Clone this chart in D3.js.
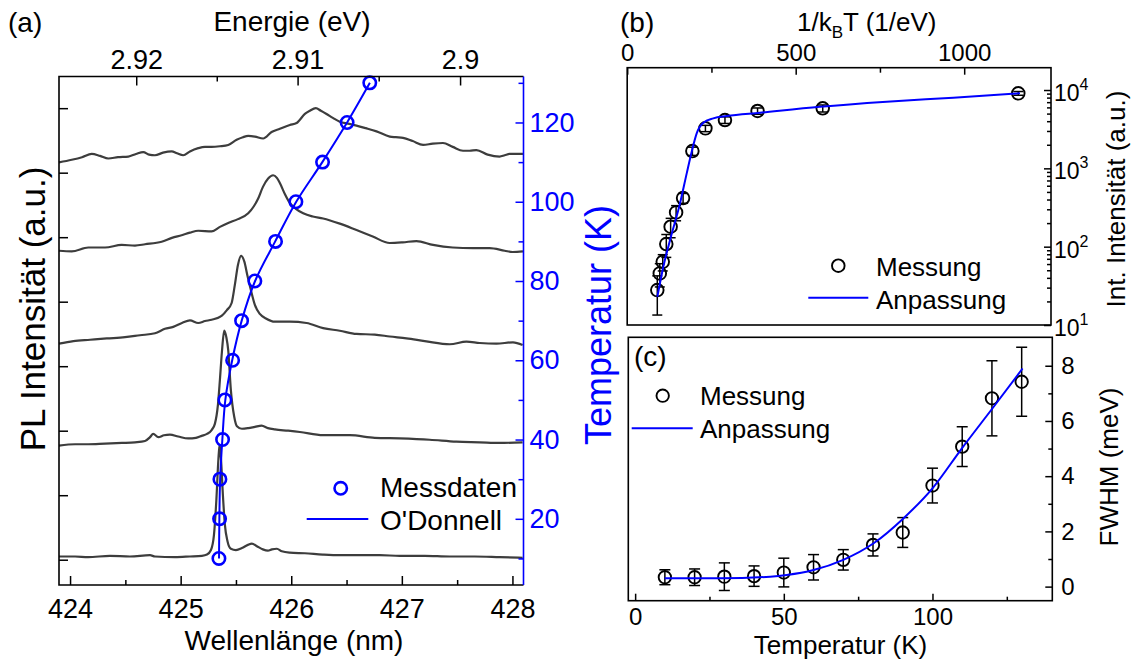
<!DOCTYPE html>
<html><head><meta charset="utf-8">
<script src="https://cdn.jsdelivr.net/npm/d3@7"></script>
<style>
body{margin:0;background:#fff}
svg{display:block}
</style>
</head><body>
<svg id="chart" width="1136" height="666"></svg>
<script>
// ---------------- DATA ----------------
// Panel (a): PL spectra (wavelength nm, intensity a.u.)
const spec1 = [[423.90,716],[424.015,720],[424.108,724],[424.196,729],[424.271,726],[424.346,722],[424.434,724],[424.527,725],[424.596,729],[424.662,732],[424.714,728],[424.768,727],[424.840,731],[424.919,733],[424.967,730],[425.023,727],[425.084,733],[425.159,738],[425.220,740],[425.280,740],[425.355,741],[425.430,743],[425.506,751],[425.563,755],[425.611,757],[425.671,756],[425.746,753],[425.822,763],[425.897,768],[425.987,774],[426.048,777],[426.123,791],[426.168,796],[426.222,800],[426.268,796],[426.319,791],[426.376,785],[426.439,779],[426.512,776],[426.590,773],[426.674,769],[426.771,764],[426.891,756],[426.945,755],[427.011,754],[427.098,749],[427.192,743],[427.279,745],[427.372,746],[427.460,740],[427.553,734],[427.613,734],[427.674,735],[427.776,728],[427.884,725],[427.930,727],[427.975,729],[428.095,729]];
const spec2 = [[423.90,579],[424.015,578],[424.165,584],[424.316,584],[424.467,588],[424.587,587],[424.678,589],[424.828,593],[424.921,599],[425.009,603],[425.084,607],[425.159,610],[425.280,609],[425.355,616],[425.430,622],[425.518,628],[425.611,637],[425.662,648],[425.701,660],[425.744,678],[425.791,691],[425.836,696],[425.870,692],[425.897,684],[425.942,667],[425.987,653],[426.042,644],[426.108,637],[426.195,632],[426.288,629],[426.439,621],[426.590,611],[426.737,601],[426.891,591],[427.008,592],[427.132,594],[427.282,588],[427.460,584],[427.643,583],[427.794,583],[427.930,579],[428.002,577],[428.095,578]];
const spec3 = [[423.90,435],[424.030,439],[424.181,441],[424.332,443],[424.497,445],[424.632,448],[424.768,451],[424.858,458],[424.933,461],[425.012,467],[425.084,471],[425.159,467],[425.220,470],[425.280,472],[425.370,478],[425.418,487],[425.461,498],[425.490,526],[425.518,557],[425.547,571],[425.576,562],[425.603,541],[425.635,518],[425.671,495],[425.716,481],[425.771,474],[425.852,469],[425.987,469],[426.138,467],[426.288,459],[426.439,455],[426.590,450],[426.755,449],[426.891,446],[427.042,443],[427.207,439],[427.433,434],[427.584,438],[427.704,436],[427.855,435],[428.005,437],[428.092,433]];
const spec4 = [[423.90,277],[424.045,279],[424.163,279],[424.316,280],[424.470,281],[424.587,282],[424.678,284],[424.723,290],[424.752,295],[424.798,290],[424.849,293],[424.903,294],[424.978,291],[425.069,288],[425.138,289],[425.190,292],[425.238,295],[425.280,301],[425.310,311],[425.337,340],[425.355,379],[425.373,422],[425.394,455],[425.414,444],[425.430,425],[425.454,363],[425.484,322],[425.509,307],[425.554,303],[425.611,304],[425.671,306],[425.732,308],[425.789,304],[425.852,302],[425.972,300],[426.078,298],[426.288,293],[426.529,293],[426.755,289],[426.981,288],[427.252,286],[427.493,283],[427.704,282],[427.884,281],[428.092,282]];
const spec5 = [[423.90,105],[424.045,105],[424.163,104],[424.361,106],[424.542,105],[424.723,107],[424.768,105],[424.949,104],[425.084,105],[425.192,106],[425.238,108],[425.274,115],[425.301,138],[425.323,193],[425.341,255],[425.352,278],[425.364,258],[425.382,200],[425.400,154],[425.423,129],[425.454,117],[425.500,115],[425.554,118],[425.608,123],[425.644,125],[425.689,121],[425.743,116],[425.789,114],[425.825,116],[425.870,117],[425.915,113],[425.987,111],[426.123,110],[426.285,108],[426.439,107],[426.620,107],[426.800,107],[426.981,106],[427.207,106],[427.433,105],[427.659,105],[427.884,104],[428.092,103]];
const spectra = [spec1, spec2, spec3, spec4, spec5];

// Panel (a): peak position vs temperature
const tempA = [10,20,30,40,50,60,70,80,90,100,110,120,130];
const peakWl = [425.346,425.352,425.355,425.379,425.400,425.470,425.551,425.671,425.858,426.042,426.283,426.505,426.710];
const odonnellWl = [425.347,425.350,425.357,425.377,425.404,425.466,425.552,425.673,425.855,426.045,426.281,426.505,426.711];

// Panel (a) ticks
const wlTicks = [424,425,426,427,428];
const wlMinor = [424.5,425.5,426.5,427.5];
const energyTicks = [2.92,2.91,2.90];
const energyTickLabels = ['2.92','2.91','2.9'];
const energyMinor = [2.915,2.905];
const intTicksA = [100,200,300,400,500,600,700,800];
const tempTicksA = [20,40,60,80,100,120];
const tempMinorA = [10,30,50,70,90,110,130];
const HC = 1239.84; // eV*nm

// Panel (b): integrated intensity vs 1/kT
const invKT = [1160.5,580.2,386.8,290.1,232.1,193.4,165.8,145.1,128.9,116.0,105.5,96.7,89.3];
const intB = [9070,5840,5400,4140,3240,1663,418,274,180,108,64,45.6,27.9];
const errB = [500,600,500,400,300,200,60,60,50,35,15,15,14.5];
const fitBU = [89.4,107.2,127,156.7,176.6,191.4,206.2,225.8,255.5,295.3,394,572,770,967.7,1165.6];
const fitBI = [22.9,55.4,121,357,863,1630,2800,3820,4350,4650,5130,6120,7100,7980,9080];
const invKTTicks = [0,500,1000];
const invKTMinor = [250,750];
const logMajor = [10,100,1000,10000];
const logExp = [1,2,3,4];

// Panel (c): FWHM vs temperature
const tempC = [10,20,30,40,50,60,70,80,90,100,110,120,130];
const fwhmC = [0.34,0.34,0.36,0.38,0.51,0.70,0.97,1.51,1.96,3.66,5.07,6.82,7.42];
const errC = [0.27,0.30,0.50,0.37,0.52,0.46,0.37,0.40,0.54,0.63,0.72,1.36,1.25];
const fitCT = [9.9,28.6,45.4,51,60,70,80.2,90.3,100,109.9,120.2,130.3];
const fitCF = [0.30,0.30,0.36,0.42,0.60,0.97,1.57,2.48,3.56,5.01,6.46,7.90];
const tempTicksC = [0,50,100];
const tempMinorC = [25,75,125];
const fwhmTicks = [0,2,4,6,8];
const fwhmMinor = [1,3,5,7];

// ---------------- DRAW ----------------
const F = "'Liberation Sans', Arial, Helvetica, sans-serif";
const BLUE = '#0000ff';
const svg = d3.select('#chart').attr('font-family', F);

function styleAxis(g, color, fs){
  g.select('.domain').remove();
  g.selectAll('.tick line').attr('stroke', color).attr('stroke-width', 1.5);
  g.selectAll('.tick text').attr('fill', color).attr('font-size', fs).attr('font-family', F);
}
function txt(x, y, s, fs, opts={}){
  const t = svg.append('text').attr('x', x).attr('y', y).attr('font-size', fs)
    .attr('fill', opts.fill || '#000').attr('text-anchor', opts.anchor || 'start').text(s);
  if (opts.rotate) t.attr('transform', `rotate(-90,${x},${y})`);
  return t;
}

// ===== Panel (a) =====
const A = {l:59, r:523.5, t:76.5, b:585};
const xA = d3.scaleLinear().domain([423.90, 428.10]).range([A.l, A.r]);
const yA = d3.scaleLinear().domain([60.8, 849.1]).range([A.b, A.t]);
const yT = d3.scaleLinear().domain([3.3, 131.6]).range([A.b, A.t]);

// spectra
const specLine = d3.line().x(d => xA(d[0])).y(d => yA(d[1])).curve(d3.curveMonotoneX);
svg.append('g').selectAll('path').data(spectra).join('path')
  .attr('d', specLine).attr('fill', 'none').attr('stroke', '#3d3d3d').attr('stroke-width', 2.2);

// O'Donnell + points
const odLine = d3.line().x((d,i) => xA(odonnellWl[i])).y(d => yT(d)).curve(d3.curveCatmullRom);
svg.append('path').attr('d', odLine(tempA)).attr('fill','none').attr('stroke', BLUE).attr('stroke-width', 2);
svg.append('g').selectAll('circle').data(tempA).join('circle')
  .attr('cx', (d,i) => xA(peakWl[i])).attr('cy', d => yT(d)).attr('r', 6.2)
  .attr('fill', 'none').attr('stroke', BLUE).attr('stroke-width', 2.6);

// axes (a)
let g;
g = svg.append('g').attr('transform', `translate(0,${A.b})`)
  .call(d3.axisBottom(xA).tickValues(wlTicks).tickSizeInner(-9).tickSizeOuter(0).tickPadding(14).tickFormat(d3.format('d')));
styleAxis(g, '#000', 27);
g = svg.append('g').attr('transform', `translate(0,${A.b})`)
  .call(d3.axisBottom(xA).tickValues(wlMinor).tickSizeInner(-5).tickSizeOuter(0).tickFormat(''));
styleAxis(g, '#000', 27);
g = svg.append('g').attr('transform', `translate(${A.l},0)`)
  .call(d3.axisLeft(yA).tickValues(intTicksA).tickSizeInner(-9).tickSizeOuter(0).tickFormat(''));
styleAxis(g, '#000', 27);
g = svg.append('g').attr('transform', `translate(${A.r},0)`)
  .call(d3.axisRight(yT).tickValues(tempTicksA).tickSizeInner(-8).tickSizeOuter(0).tickPadding(6));
styleAxis(g, BLUE, 27);
g = svg.append('g').attr('transform', `translate(${A.r},0)`)
  .call(d3.axisRight(yT).tickValues(tempMinorA).tickSizeInner(-5).tickSizeOuter(0).tickFormat(''));
styleAxis(g, BLUE, 27);
// top energy axis (non-linear: E = hc/lambda)
const gE = svg.append('g');
gE.selectAll('line.maj').data(energyTicks).join('line').attr('class','maj')
  .attr('x1', d => xA(HC/d)).attr('x2', d => xA(HC/d)).attr('y1', A.t).attr('y2', A.t + 9)
  .attr('stroke', '#000').attr('stroke-width', 1.5);
gE.selectAll('line.min').data(energyMinor).join('line').attr('class','min')
  .attr('x1', d => xA(HC/d)).attr('x2', d => xA(HC/d)).attr('y1', A.t).attr('y2', A.t + 5)
  .attr('stroke', '#000').attr('stroke-width', 1.5);
gE.selectAll('text').data(energyTicks).join('text')
  .attr('x', d => xA(HC/d)).attr('y', 69).attr('text-anchor', 'middle').attr('font-size', 27)
  .text((d,i) => energyTickLabels[i]);
// frame (a)
svg.append('path').attr('d', `M${A.r},${A.t}H${A.l}V${A.b}H${A.r}`).attr('fill','none').attr('stroke','#000').attr('stroke-width',1.6);
svg.append('line').attr('x1',A.r).attr('x2',A.r).attr('y1',A.t).attr('y2',A.b).attr('stroke',BLUE).attr('stroke-width',1.6);

// titles (a)
txt(8, 32, '(a)', 28);
txt(292, 31, 'Energie (eV)', 28, {anchor:'middle'});
txt(294, 650, 'Wellenlänge (nm)', 28, {anchor:'middle'});
txt(45, 309, 'PL Intensität (a.u.)', 35, {anchor:'middle', rotate:true});
txt(611, 325, 'Temperatur (K)', 36, {anchor:'middle', rotate:true, fill:BLUE});
// legend (a)
svg.append('circle').attr('cx', 340.7).attr('cy', 488.3).attr('r', 6.2).attr('fill','none').attr('stroke',BLUE).attr('stroke-width',2.6);
txt(380, 497, 'Messdaten', 28);
svg.append('line').attr('x1', 306.7).attr('x2', 368.3).attr('y1', 519).attr('y2', 519).attr('stroke', BLUE).attr('stroke-width', 2);
txt(380, 529.5, "O'Donnell", 28);

// ===== Panel (b) =====
const B = {l:627.2, r:1051, t:67.7, b:325};
const xB = d3.scaleLinear().domain([0, 1257.6]).range([B.l, B.r]);
const yB = d3.scaleLog().domain([10, 19275]).range([B.b, B.t]);

g = svg.append('g').attr('transform', `translate(0,${B.t})`)
  .call(d3.axisTop(xB).tickValues(invKTTicks).tickSizeInner(-7).tickSizeOuter(0).tickPadding(7).tickFormat(d3.format('d')));
styleAxis(g, '#000', 24);
g = svg.append('g').attr('transform', `translate(0,${B.t})`)
  .call(d3.axisTop(xB).tickValues(invKTMinor).tickSizeInner(-5).tickSizeOuter(0).tickFormat(''));
styleAxis(g, '#000', 24);
const logMinor = [];
[10,100,1000,10000].forEach(dec => { for (let k=2;k<=9;k++){ const v=dec*k; if (v<19275) logMinor.push(v);} });
g = svg.append('g').attr('transform', `translate(${B.r},0)`)
  .call(d3.axisRight(yB).tickValues(logMajor).tickSizeInner(-7).tickSizeOuter(0).tickFormat(''));
styleAxis(g, '#000', 24);
g = svg.append('g').attr('transform', `translate(${B.r},0)`)
  .call(d3.axisRight(yB).tickValues(logMinor).tickSizeInner(-4).tickSizeOuter(0).tickFormat(''));
styleAxis(g, '#000', 24);
const gL = svg.append('g').selectAll('text').data(logMajor).join('text')
  .attr('x', B.r + 3).attr('y', d => yB(d) + 11).attr('font-size', 23);
gL.append('tspan').text('10');
gL.append('tspan').attr('dy', -11).attr('font-size', 16).text((d,i) => logExp[i]);

// error bars + points (b)
const gEB = svg.append('g').attr('stroke', '#000').attr('stroke-width', 1.5);
invKT.forEach((u,i) => {
  const x = xB(u), y1 = yB(Math.max(intB[i]-errB[i], 10.5)), y2 = yB(intB[i]+errB[i]);
  gEB.append('line').attr('x1',x).attr('x2',x).attr('y1',y1).attr('y2',y2);
  gEB.append('line').attr('x1',x-5).attr('x2',x+5).attr('y1',y1).attr('y2',y1);
  gEB.append('line').attr('x1',x-5).attr('x2',x+5).attr('y1',y2).attr('y2',y2);
});
svg.append('g').selectAll('circle').data(invKT).join('circle')
  .attr('cx', d => xB(d)).attr('cy', (d,i) => yB(intB[i])).attr('r', 6.3)
  .attr('fill','none').attr('stroke','#000').attr('stroke-width',1.9);
const fitBLine = d3.line().x((d,i) => xB(d)).y((d,i) => yB(fitBI[i])).curve(d3.curveMonotoneX);
svg.append('path').attr('d', fitBLine(fitBU)).attr('fill','none').attr('stroke',BLUE).attr('stroke-width',2);
svg.append('rect').attr('x',B.l).attr('y',B.t).attr('width',B.r-B.l).attr('height',B.b-B.t)
  .attr('fill','none').attr('stroke','#000').attr('stroke-width',1.6);

// titles (b)
txt(620, 32, '(b)', 28);
const tB = txt(797, 31, '', 26);
tB.append('tspan').text('1/k');
tB.append('tspan').attr('font-size', 17).attr('dy', 7).text('B');
tB.append('tspan').attr('dy', -7).text('T (1/eV)');
txt(1125, 199, 'Int. Intensität (a.u.)', 26, {anchor:'middle', rotate:true});
// legend (b)
svg.append('circle').attr('cx', 838.3).attr('cy', 265.7).attr('r', 6.3).attr('fill','none').attr('stroke','#000').attr('stroke-width',1.9);
txt(876, 275.5, 'Messung', 26);
svg.append('line').attr('x1', 808.3).attr('x2', 868.3).attr('y1', 297.7).attr('y2', 297.7).attr('stroke', BLUE).attr('stroke-width', 2);
txt(876, 308.5, 'Anpassung', 26);

// ===== Panel (c) =====
const C = {l:628.3, r:1052.3, t:337.3, b:600.7};
const xC = d3.scaleLinear().domain([-2.3, 140.3]).range([C.l, C.r]);
const yC = d3.scaleLinear().domain([-0.51, 9.03]).range([C.b, C.t]);

g = svg.append('g').attr('transform', `translate(0,${C.b})`)
  .call(d3.axisBottom(xC).tickValues(tempTicksC).tickSizeInner(-7).tickSizeOuter(0).tickPadding(7).tickFormat(d3.format('d')));
styleAxis(g, '#000', 24);
g = svg.append('g').attr('transform', `translate(0,${C.b})`)
  .call(d3.axisBottom(xC).tickValues(tempMinorC).tickSizeInner(-4).tickSizeOuter(0).tickFormat(''));
styleAxis(g, '#000', 24);
g = svg.append('g').attr('transform', `translate(${C.r},0)`)
  .call(d3.axisRight(yC).tickValues(fwhmTicks).tickSizeInner(-7).tickSizeOuter(0).tickPadding(9).tickFormat(d3.format('d')));
styleAxis(g, '#000', 24);
g = svg.append('g').attr('transform', `translate(${C.r},0)`)
  .call(d3.axisRight(yC).tickValues(fwhmMinor).tickSizeInner(-4).tickSizeOuter(0).tickFormat(''));
styleAxis(g, '#000', 24);

const gEC = svg.append('g').attr('stroke', '#000').attr('stroke-width', 1.5);
tempC.forEach((t,i) => {
  const x = xC(t), y1 = yC(fwhmC[i]-errC[i]), y2 = yC(fwhmC[i]+errC[i]);
  gEC.append('line').attr('x1',x).attr('x2',x).attr('y1',y1).attr('y2',y2);
  gEC.append('line').attr('x1',x-5.5).attr('x2',x+5.5).attr('y1',y1).attr('y2',y1);
  gEC.append('line').attr('x1',x-5.5).attr('x2',x+5.5).attr('y1',y2).attr('y2',y2);
});
svg.append('g').selectAll('circle').data(tempC).join('circle')
  .attr('cx', d => xC(d)).attr('cy', (d,i) => yC(fwhmC[i])).attr('r', 6.2)
  .attr('fill','none').attr('stroke','#000').attr('stroke-width',1.9);
const fitCLine = d3.line().x(d => xC(d)).y((d,i) => yC(fitCF[i])).curve(d3.curveMonotoneX);
svg.append('path').attr('d', fitCLine(fitCT)).attr('fill','none').attr('stroke',BLUE).attr('stroke-width',2);
svg.append('rect').attr('x',C.l).attr('y',C.t).attr('width',C.r-C.l).attr('height',C.b-C.t)
  .attr('fill','none').attr('stroke','#000').attr('stroke-width',1.6);

// titles (c)
txt(634, 366, '(c)', 28);
txt(840.5, 654, 'Temperatur (K)', 26, {anchor:'middle'});
txt(1118, 467, 'FWHM (meV)', 26, {anchor:'middle', rotate:true});
// legend (c)
svg.append('circle').attr('cx', 662.7).attr('cy', 395.7).attr('r', 6.2).attr('fill','none').attr('stroke','#000').attr('stroke-width',1.9);
txt(700, 405.3, 'Messung', 26);
svg.append('line').attr('x1', 631.7).attr('x2', 692.7).attr('y1', 428.3).attr('y2', 428.3).attr('stroke', BLUE).attr('stroke-width', 2);
txt(700, 438, 'Anpassung', 26);
</script>
</body></html>
